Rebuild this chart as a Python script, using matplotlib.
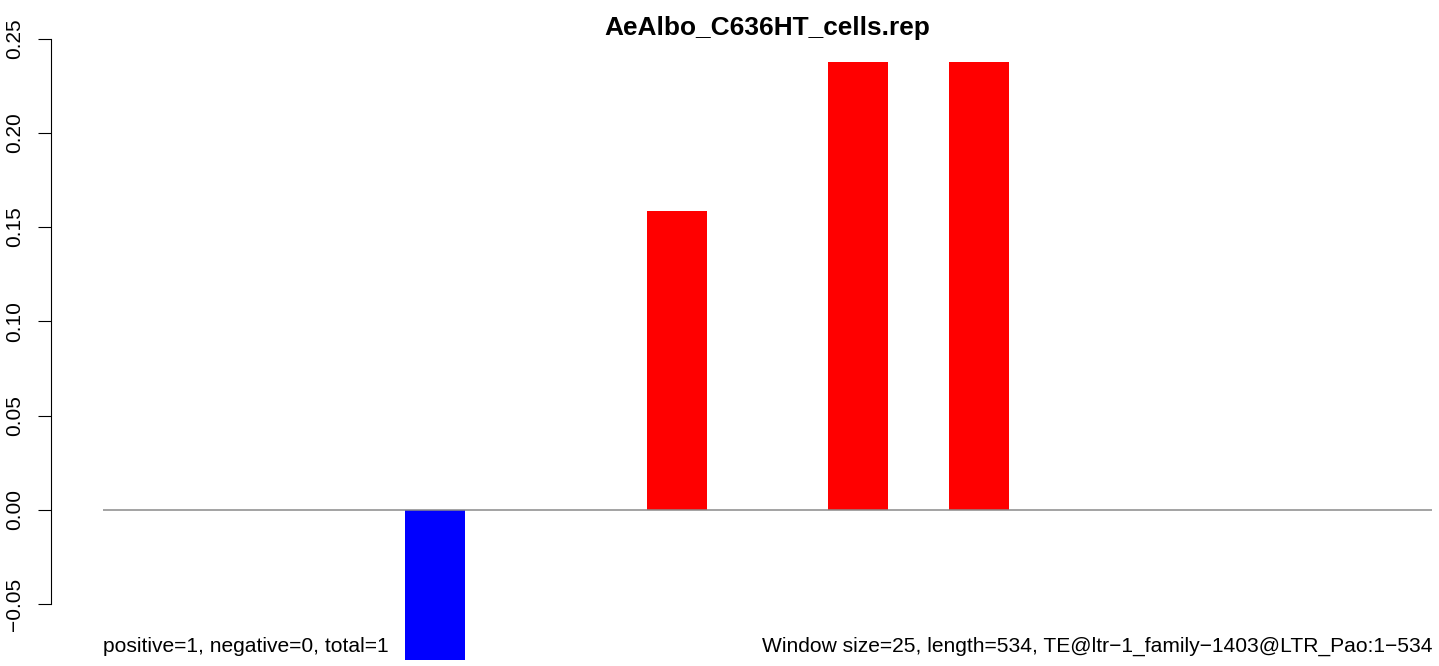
import matplotlib
matplotlib.use('Agg')
import matplotlib.pyplot as plt
import numpy as np

plt.rcParams['font.family'] = ['Liberation Sans', 'DejaVu Sans']

title = 'AeAlbo_C636HT_cells.rep'
left_note = 'positive=1, negative=0, total=1'
right_note = 'Window size=25, length=534, TE@ltr\u22121_family\u22121403@LTR_Pao:1\u2212534'

# one value per window (22 windows)
windows = list(range(22))
values = [0, 0, 0, 0, 0, -0.0795, 0, 0, 0, 0.1587, 0, 0, 0.2378, 0,
          0.2378, 0, 0, 0, 0, 0, 0, 0]
yticks = [-0.05, 0.00, 0.05, 0.10, 0.15, 0.20, 0.25]

W, H = 1439, 666
fig = plt.figure(figsize=(W / 100, H / 100), dpi=100)

# axes in pixel terms: left spine at x=50.7, runs to the right edge
ax = fig.add_axes([50.7 / W, 0, 1 - 50.7 / W, 1])

unit = 60.41  # pixels per window
ppu = 1886    # pixels per y unit, zero line at y=510
ax.set_xlim(-(103 - 50.7) / unit, 22 + (W - 1432) / unit)
ax.set_ylim(-(H - 510) / ppu, 510 / ppu)

colors = ['red' if v > 0 else 'blue' for v in values]
ax.bar(windows, values, width=1, align='edge', color=colors, linewidth=0)
ax.hlines(0, windows[0], windows[-1] + 1, color='#8a8a8a', linewidth=1.1, zorder=3)

for s in ['top', 'right', 'bottom']:
    ax.spines[s].set_visible(False)
ax.spines['left'].set_bounds(yticks[0], yticks[-1])
ax.spines['left'].set_linewidth(0.8)
ax.set_xticks([])
ax.set_yticks(yticks)
ax.set_yticklabels([f'{t:.2f}'.replace('-', '\u2212') for t in yticks],
                   rotation=90, va='center', fontsize=15)
ax.tick_params(axis='y', direction='out', length=9.4, width=0.8, pad=10)

fig.text(767.5 / W, (H - 35) / H, title, ha='center', va='baseline',
         fontsize=18.9, fontweight='bold')

ax.text(windows[0], -(651.7 - 510) / ppu, left_note, ha='left', va='baseline', fontsize=15.1)
ax.text(windows[-1] + 1, -(651.7 - 510) / ppu, right_note, ha='right', va='baseline', fontsize=15.1)

fig.savefig('out.png', dpi=100)
